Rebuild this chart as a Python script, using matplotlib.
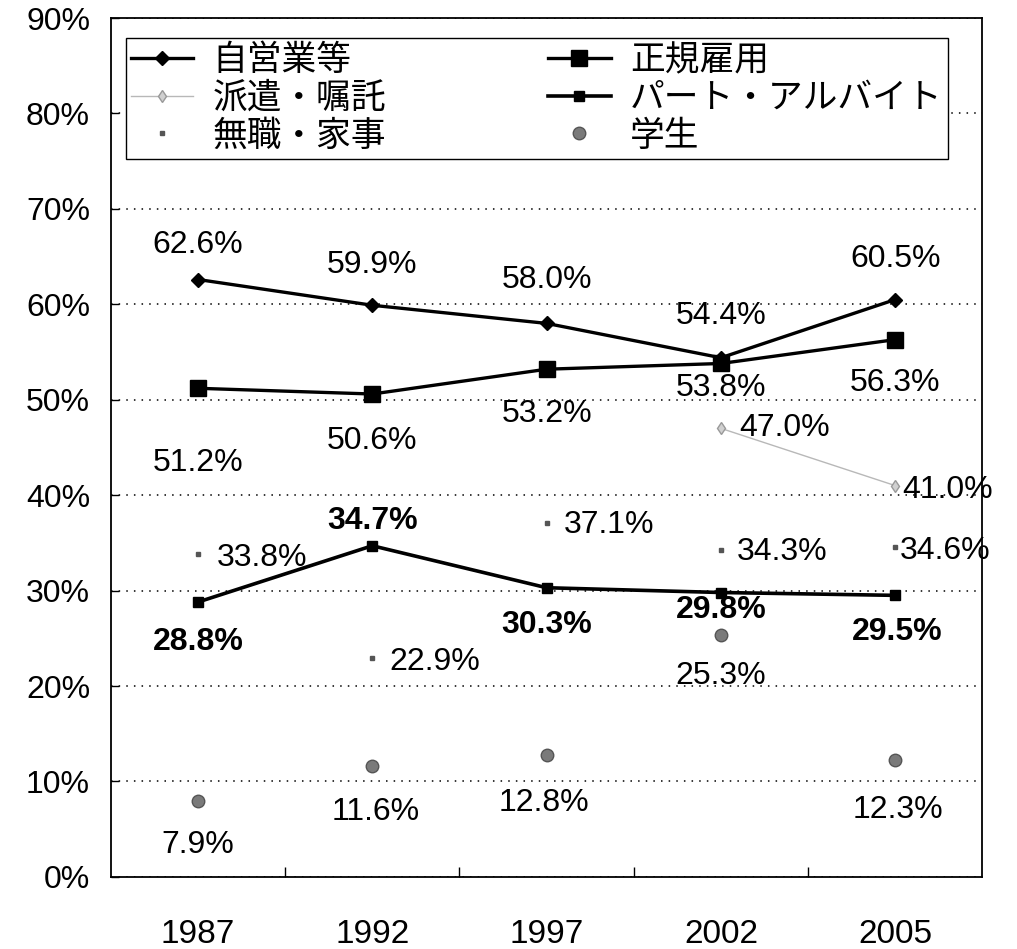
import numpy as np
import matplotlib
matplotlib.use('Agg')
import matplotlib.pyplot as plt
from matplotlib.ticker import FixedLocator

plt.rcParams['font.family'] = ['Liberation Sans', 'Noto Sans CJK JP', 'DejaVu Sans']

# data
years = ['1987', '1992', '1997', '2002', '2005']
self_emp = [62.6, 59.9, 58.0, 54.4, 60.5]      # 自営業等
regular = [51.2, 50.6, 53.2, 53.8, 56.3]       # 正規雇用
dispatch = [np.nan, np.nan, np.nan, 47.0, 41.0]  # 派遣・嘱託
part_time = [28.8, 34.7, 30.3, 29.8, 29.5]     # パート・アルバイト
no_job = [33.8, 22.9, 37.1, 34.3, 34.6]        # 無職・家事
student = [7.9, 11.6, 12.8, 25.3, 12.3]        # 学生

x = np.arange(len(years))

fig = plt.figure(figsize=(10.17, 9.49), dpi=100)
ax = fig.add_axes([0.109, 0.076, 0.857, 0.905])

l_self, = ax.plot(x, self_emp, color='black', lw=2.4, marker='D', ms=7.6, label='自営業等', zorder=4)
l_disp, = ax.plot(x, dispatch, color='#b8b8b8', lw=1.0, marker='d', ms=6, mfc='#d0d0d0', mec='#999999',
                  label='派遣・嘱託', zorder=3)
l_nojob, = ax.plot(x, no_job, ls='none', marker='s', ms=3.5, color='#555555', label='無職・家事', zorder=3)
l_reg, = ax.plot(x, regular, color='black', lw=2.4, marker='s', ms=11, label='正規雇用', zorder=4)
l_part, = ax.plot(x, part_time, color='black', lw=2.6, marker='s', ms=7, label='パート・アルバイト', zorder=4)
l_stud, = ax.plot(x, student, ls='none', marker='o', ms=9, color='#7a7a7a', mec='#555555', label='学生', zorder=3)

# labels: (values, offsets in pixels, alignment, bold)
def put_labels(vals, offs, ha='center', weight='normal'):
    for xi, v, (dx, dy) in zip(x, vals, offs):
        if np.isnan(v):
            continue
        ax.annotate(f'{v:.1f}%', (xi, v), xytext=(dx, dy), textcoords='offset pixels',
                    ha=ha, va='center', fontsize=23, fontweight=weight, zorder=6)

put_labels(self_emp, [(0, 35), (0, 40), (0, 43), (0, 42), (0, 41)])
put_labels(regular, [(0, -75), (0, -47), (0, -45), (0, -25), (0, -43)])
put_labels(dispatch, [(0, 0), (0, 0), (0, 0), (18, 0), (7, -4)], ha='left')
put_labels(part_time, [(0, -40), (0, 25), (0, -37), (0, -17), (2, -37)], weight='bold')
put_labels(no_job, [(19, -4), (17, -4), (17, -2), (16, -2), (5, -4)], ha='left')
put_labels(student, [(0, -44), (3, -46), (-3, -48), (0, -41), (3, -50)])

ax.set_xlim(-0.5, 4.5)
ax.set_ylim(0, 90)
ax.set_yticks(np.arange(0, 91, 10))
ax.set_yticklabels([f'{v}%' for v in range(0, 91, 10)])
ax.set_xticks(x)
ax.set_xticklabels(years)
ax.xaxis.set_minor_locator(FixedLocator([0.5, 1.5, 2.5, 3.5]))

ax.tick_params(axis='y', direction='in', length=6, width=1, labelsize=23, pad=15)
ax.tick_params(axis='x', which='major', length=0, labelsize=24, pad=30)
ax.tick_params(axis='x', which='minor', direction='in', length=7, width=1)

ax.yaxis.grid(True, color='black', lw=1.1, ls=(0, (1, 4)))
ax.set_axisbelow(True)
for s in ax.spines.values():
    s.set_linewidth(1.3)
    s.set_color('black')

leg = ax.legend(handles=[l_self, l_disp, l_nojob, l_reg, l_part, l_stud],
                ncol=2, loc='upper left', bbox_to_anchor=(0.017, 0.7, 0.943, 0.277),
                mode='expand', borderaxespad=0, prop={'family': 'Noto Sans CJK JP', 'size': 25},
                handlelength=1.8, handletextpad=0.55, labelspacing=0.08, borderpad=0.15,
                fancybox=False, framealpha=1, edgecolor='black')
leg.get_frame().set_linewidth(1.0)
leg.set_zorder(5)

fig.savefig('out.png', dpi=100)
